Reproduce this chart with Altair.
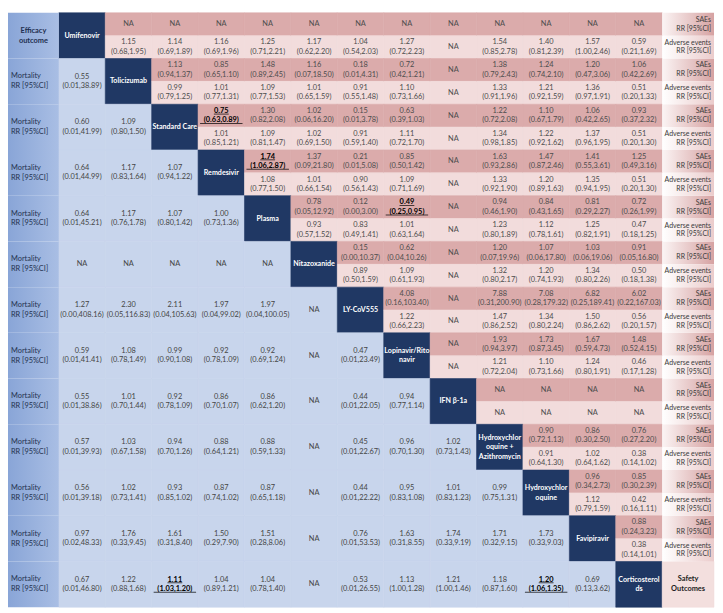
import altair as alt
import pandas as pd

box_labels = ["Umifenovir", "Tolicizumab", "Standard Care", "Remdesivir", "Plasma",
              "Nitazoxanide", "LY-CoV555", "Lopinavir/Rito\nnavir", "IFN β-1a",
              "Hydroxychlor\noquine +\nAzithromycin", "Hydroxychlor\noquine",
              "Favipiravir", "Corticosterol\nds"]
left_header = "Efficacy\noutcome"
left_label = "Mortality\nRR [95%CI]"
right_sae_label = "SAEs\nRR [95%CI]"
right_ae_label = "Adverse events\nRR [95%CI]"
corner_label = "Safety\nOutcomes"

# Efficacy (lower triangle): mortality RR, row i vs columns 0..i-1
mortality = [
    [],
    ["0.55 (0.01,38.89)"],
    ["0.60 (0.01,41.99)", "1.09 (0.80,1.50)"],
    ["0.64 (0.01,44.99)", "1.17 (0.83,1.64)", "1.07 (0.94,1.22)"],
    ["0.64 (0.01,45.21)", "1.17 (0.76,1.78)", "1.07 (0.80,1.42)", "1.00 (0.73,1.36)"],
    ["NA", "NA", "NA", "NA", "NA"],
    ["1.27 (0.00,408.16)", "2.30 (0.05,116.83)", "2.11 (0.04,105.63)", "1.97 (0.04,99.02)", "1.97 (0.04,100.05)", "NA"],
    ["0.59 (0.01,41.41)", "1.08 (0.78,1.49)", "0.99 (0.90,1.08)", "0.92 (0.78,1.09)", "0.92 (0.69,1.24)", "NA", "0.47 (0.01,23.49)"],
    ["0.55 (0.01,38.86)", "1.01 (0.70,1.44)", "0.92 (0.78,1.09)", "0.86 (0.70,1.07)", "0.86 (0.62,1.20)", "NA", "0.44 (0.01,22.05)", "0.94 (0.77,1.14)"],
    ["0.57 (0.01,39.93)", "1.03 (0.67,1.58)", "0.94 (0.70,1.26)", "0.88 (0.64,1.21)", "0.88 (0.59,1.33)", "NA", "0.45 (0.01,22.67)", "0.96 (0.70,1.30)", "1.02 (0.73,1.43)"],
    ["0.56 (0.01,39.18)", "1.02 (0.73,1.41)", "0.93 (0.85,1.02)", "0.87 (0.74,1.02)", "0.87 (0.65,1.18)", "NA", "0.44 (0.01,22.22)", "0.95 (0.83,1.08)", "1.01 (0.83,1.23)", "0.99 (0.75,1.31)"],
    ["0.97 (0.02,48.33)", "1.76 (0.33,9.45)", "1.61 (0.31,8.40)", "1.50 (0.29,7.90)", "1.51 (0.28,8.06)", "NA", "0.76 (0.01,53.53)", "1.63 (0.31,8.55)", "1.74 (0.33,9.19)", "1.71 (0.32,9.15)", "1.73 (0.33,9.03)"],
    ["0.67 (0.01,46.80)", "1.22 (0.88,1.68)", "1.11 (1.03,1.20)", "1.04 (0.89,1.21)", "1.04 (0.78,1.40)", "NA", "0.53 (0.01,26.55)", "1.13 (1.00,1.28)", "1.21 (1.00,1.46)", "1.18 (0.87,1.60)", "1.20 (1.06,1.35)", "0.69 (0.13,3.62)"],
]

# Safety (upper triangle): SAEs, row i vs columns i+1..12
saes = [
    ["NA"] * 12,
    ["1.13 (0.94,1.37)", "0.85 (0.65,1.10)", "1.48 (0.89,2.45)", "1.16 (0.07,18.50)", "0.18 (0.01,4.31)", "0.72 (0.42,1.21)", "NA", "1.38 (0.79,2.43)", "1.24 (0.74,2.10)", "1.20 (0.47,3.06)", "1.06 (0.42,2.69)"],
    ["0.75 (0.63,0.89)", "1.30 (0.82,2.08)", "1.02 (0.06,16.20)", "0.15 (0.01,3.78)", "0.63 (0.39,1.03)", "NA", "1.22 (0.72,2.08)", "1.10 (0.67,1.79)", "1.06 (0.42,2.65)", "0.93 (0.37,2.32)"],
    ["1.74 (1.06,2.87)", "1.37 (0.09,21.80)", "0.21 (0.01,5.08)", "0.85 (0.50,1.42)", "NA", "1.63 (0.93,2.86)", "1.47 (0.87,2.46)", "1.41 (0.55,3.61)", "1.25 (0.49,3.16)"],
    ["0.78 (0.05,12.92)", "0.12 (0.00,3.00)", "0.49 (0.25,0.95)", "NA", "0.94 (0.46,1.90)", "0.84 (0.43,1.65)", "0.81 (0.29,2.27)", "0.72 (0.26,1.99)"],
    ["0.15 (0.00,10.37)", "0.62 (0.04,10.26)", "NA", "1.20 (0.07,19.96)", "1.07 (0.06,17.80)", "1.03 (0.06,19.06)", "0.91 (0.05,16.80)"],
    ["4.08 (0.16,103.40)", "NA", "7.88 (0.31,200.90)", "7.08 (0.28,179.32)", "6.82 (0.25,189.41)", "6.02 (0.22,167.03)"],
    ["NA", "1.93 (0.94,3.97)", "1.73 (0.87,3.45)", "1.67 (0.59,4.73)", "1.48 (0.52,4.15)"],
    ["NA"] * 4,
    ["0.90 (0.72,1.13)", "0.86 (0.30,2.50)", "0.76 (0.27,2.20)"],
    ["0.96 (0.34,2.73)", "0.85 (0.30,2.39)"],
    ["0.88 (0.24,3.23)"],
    [],
]

# Safety (upper triangle): adverse events
adverse = [
    ["1.15 (0.68,1.95)", "1.14 (0.69,1.89)", "1.16 (0.69,1.96)", "1.25 (0.71,2.21)", "1.17 (0.62,2.20)", "1.04 (0.54,2.03)", "1.27 (0.72,2.23)", "NA", "1.54 (0.85,2.78)", "1.40 (0.81,2.39)", "1.57 (1.00,2.46)", "0.59 (0.21,1.69)"],
    ["0.99 (0.79,1.25)", "1.01 (0.77,1.31)", "1.09 (0.77,1.53)", "1.01 (0.65,1.59)", "0.91 (0.55,1.48)", "1.10 (0.73,1.66)", "NA", "1.33 (0.91,1.96)", "1.21 (0.92,1.59)", "1.36 (0.97,1.91)", "0.51 (0.20,1.33)"],
    ["1.01 (0.85,1.21)", "1.09 (0.81,1.47)", "1.02 (0.69,1.50)", "0.91 (0.59,1.40)", "1.11 (0.72,1.70)", "NA", "1.34 (0.98,1.85)", "1.22 (0.92,1.62)", "1.37 (0.96,1.95)", "0.51 (0.20,1.30)"],
    ["1.08 (0.77,1.50)", "1.01 (0.66,1.54)", "0.90 (0.56,1.43)", "1.09 (0.71,1.69)", "NA", "1.33 (0.92,1.90)", "1.20 (0.89,1.63)", "1.35 (0.94,1.95)", "0.51 (0.20,1.30)"],
    ["0.93 (0.57,1.52)", "0.83 (0.49,1.41)", "1.01 (0.63,1.64)", "NA", "1.23 (0.80,1.89)", "1.12 (0.78,1.61)", "1.25 (0.82,1.91)", "0.47 (0.18,1.25)"],
    ["0.89 (0.50,1.59)", "1.09 (0.61,1.93)", "NA", "1.32 (0.80,2.17)", "1.20 (0.74,1.93)", "1.34 (0.80,2.26)", "0.50 (0.18,1.38)"],
    ["1.22 (0.66,2.23)", "NA", "1.47 (0.86,2.52)", "1.34 (0.80,2.24)", "1.50 (0.86,2.62)", "0.56 (0.20,1.57)"],
    ["NA", "1.21 (0.72,2.04)", "1.10 (0.73,1.66)", "1.24 (0.80,1.91)", "0.46 (0.17,1.28)"],
    ["NA"] * 4,
    ["0.91 (0.64,1.30)", "1.02 (0.64,1.62)", "0.38 (0.14,1.02)"],
    ["1.12 (0.79,1.59)", "0.42 (0.16,1.11)"],
    ["0.38 (0.14,1.01)"],
    [],
]

# significant (bold, underlined) cells: (table, row, column)
highlight = [("sae", 2, 3), ("sae", 3, 4), ("sae", 4, 7), ("mort", 12, 2), ("mort", 12, 10)]


def fmt(s):
    return s.replace(" ", "\n", 1)


n = len(box_labels)
rows = []
for i in range(n):
    r0, r1 = 2 * i, 2 * i + 2
    if i == 0:
        rows.append(dict(x0=0, x1=1, y0=r0, y1=r1, kind="left", text=left_header, style="head"))
    else:
        rows.append(dict(x0=0, x1=1, y0=r0, y1=r1, kind="left", text=left_label, style="left"))
    for j in range(n):
        c0, c1 = j + 1, j + 2
        if j == i:
            rows.append(dict(x0=c0, x1=c1, y0=r0, y1=r1, kind="diag", text=box_labels[i], style="diag"))
        elif j < i:
            s = mortality[i][j]
            st = "bold" if ("mort", i, j) in highlight else "lowval"
            rows.append(dict(x0=c0, x1=c1, y0=r0, y1=r1, kind="lower", text=fmt(s), style=st))
        else:
            k = j - i - 1
            for lst, kind, y0 in ((saes, "sae", r0), (adverse, "ae", r0 + 1)):
                s = lst[i][k]
                st = "bold" if (kind, i, j) in highlight else "upval"
                rows.append(dict(x0=c0, x1=c1, y0=y0, y1=y0 + 1, kind=kind, text=fmt(s), style=st))
    if i < n - 1:
        rows.append(dict(x0=n + 1, x1=n + 2, y0=r0, y1=r0 + 1, kind="rsae", text=right_sae_label, style="right"))
        rows.append(dict(x0=n + 1, x1=n + 2, y0=r0 + 1, y1=r0 + 2, kind="rae", text=right_ae_label, style="right"))
    else:
        rows.append(dict(x0=n + 1, x1=n + 2, y0=r0, y1=r1, kind="corner", text=corner_label, style="corner"))

df = pd.DataFrame(rows)
df["xc"] = (df.x0 + df.x1) / 2
df["yc"] = (df.y0 + df.y1) / 2
df["nl"] = df["text"].str.count("\n") + 1

W, H = 715, 602
xs = alt.Scale(domain=[0, 1, n + 1, n + 2], range=[0, 51.5, 662.5, W], nice=False, zero=False)
ys = alt.Scale(domain=[0, 2 * n], reverse=True, nice=False, zero=False)

FONT = "Lato"
base = alt.Chart(df)
rect_enc = dict(
    x=alt.X("x0:Q", scale=xs, axis=None),
    x2="x1:Q",
    y=alt.Y("y0:Q", scale=ys, axis=None),
    y2="y1:Q",
)


def grad(c0, c1):
    return alt.LinearGradient(gradient="linear",
                              stops=[alt.GradientStop(offset=0, color=c0),
                                     alt.GradientStop(offset=1, color=c1)],
                              x1=0, x2=1, y1=0, y2=0)


fill_kinds = ["diag", "lower", "sae", "ae", "corner"]
fill_cols = ["#203864", "#c8d5ec", "#dbabab", "#f2dcdc", "#f3dfde"]
fills = base.transform_filter(
    alt.FieldOneOfPredicate(field="kind", oneOf=fill_kinds)
).mark_rect(strokeWidth=0.6).encode(
    color=alt.Color("kind:N", legend=None, scale=alt.Scale(domain=fill_kinds, range=fill_cols)),
    stroke=alt.Stroke("kind:N", legend=None, scale=alt.Scale(domain=fill_kinds, range=fill_cols)),
    **rect_enc)
left_fill = base.transform_filter(alt.datum.kind == "left").mark_rect(
    color=grad("#89a5d7", "#a9bee4")).encode(**rect_enc)
rsae_fill = base.transform_filter(alt.datum.kind == "rsae").mark_rect(
    color=grad("#fbf4f4", "#d6a2a2")).encode(**rect_enc)
rae_fill = base.transform_filter(alt.datum.kind == "rae").mark_rect(
    color=grad("#ffffff", "#ebcccc")).encode(**rect_enc)

txt_y = alt.Y("yc:Q", scale=ys, axis=None)


def text_layers(style, lh, xfield="xc", **kw):
    layers = []
    for nl in sorted(df.loc[df["style"] == style, "nl"].unique()):
        props = dict(font=FONT, lineBreak="\n", baseline="middle", lineHeight=lh,
                     dy=-(nl - 1) * lh / 2)
        props.update(kw)
        layers.append(
            base.transform_filter((alt.datum.style == style) & (alt.datum.nl == int(nl)))
            .mark_text(**props)
            .encode(x=alt.X(f"{xfield}:Q", scale=xs, axis=None), y=txt_y, text="text:N"))
    return layers


txt = []
txt += text_layers("upval", 9.5, fontSize=7.5, color="#4d4d4d")
txt += text_layers("lowval", 9.5, fontSize=7.5, color="#454545")
txt += text_layers("bold", 9.5, fontSize=7.5, color="#000000", fontWeight="bold")
txt += text_layers("diag", 9.5, fontSize=7.2, color="#ffffff", fontWeight="bold")
txt += text_layers("head", 10, fontSize=7.5, color="#1f2f50", fontWeight="bold")
txt += text_layers("corner", 10, fontSize=7.5, color="#222222", fontWeight="bold")
txt += text_layers("left", 10, xfield="x0", align="left", dx=3, fontSize=7.5, color="#24324f")
txt += text_layers("right", 9, xfield="x1", align="right", dx=-3, fontSize=7, color="#3a3a3a")

bold_data = base.transform_filter(alt.datum.style == "bold")
ul_x = alt.X("xc:Q", scale=xs, axis=None)
ul1 = bold_data.mark_tick(orient="horizontal", size=15, thickness=1, color="#000000",
                          yOffset=-1.6).encode(x=ul_x, y=txt_y)
ul2 = bold_data.mark_tick(orient="horizontal", size=43, thickness=1, color="#000000",
                          yOffset=7.9).encode(x=ul_x, y=txt_y)

chart = alt.layer(
    fills, left_fill, rsae_fill, rae_fill, *txt, ul1, ul2,
).properties(width=W, height=H, padding=0).configure_view(stroke=None)

chart.save("out.html", embed_options={"renderer": "svg", "actions": False})
